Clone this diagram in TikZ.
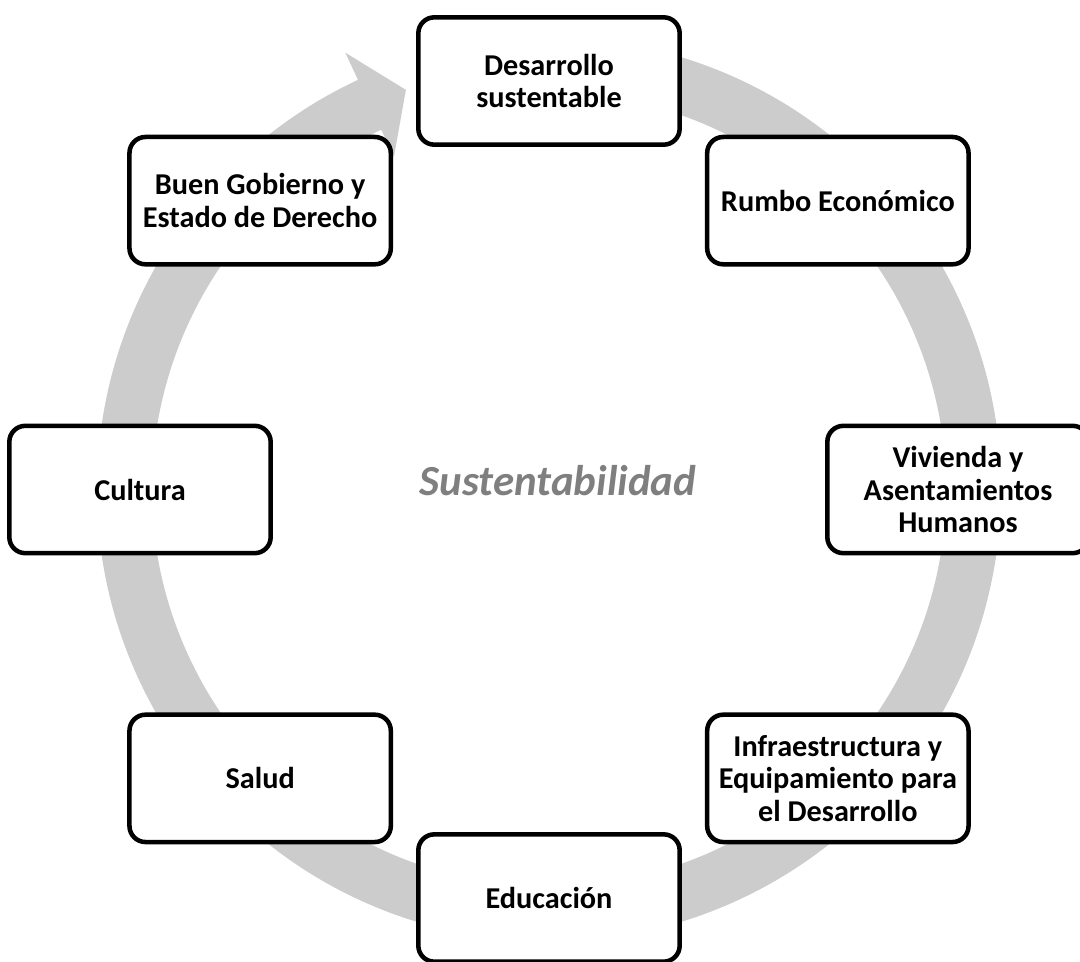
\documentclass[tikz,border=0pt]{standalone}
\usepackage{fontspec}
\setmainfont{Carlito}
\usepackage{xcolor}
\usetikzlibrary{calc,positioning}
\definecolor{ringgray}{HTML}{CCCCCC}
\definecolor{textgray}{HTML}{7F7F7F}
\begin{document}
\begin{tikzpicture}[x=0.75pt,y=0.75pt]
		\tikzstyle{topic}=[draw, fill=white, line width=3.4pt, rounded corners=12pt, minimum width=196pt, minimum height=95.5pt, align=center, font=\bfseries\fontsize{22.7}{24.5}\selectfont]
		\useasboundingbox (-549,-471.5) rectangle (531,489.5);
		% gray cycle arrow
		\fill [ringgray] (80:452) arc [start angle=80, end angle=-245, radius=452] -- (115:482) -- (109.7:424.5) -- (115:367) -- (115:397) arc [start angle=-245, end angle=80, radius=397] -- cycle;
		\node [font=\bfseries\itshape\fontsize{32.2}{36}\selectfont, text=textgray, anchor=base] (centro) at (9,-5.5) {Sustentabilidad};
		\node [topic] (desarrollo) at (90:408.5) {Desarrollo\\sustentable};
		\node [topic] (rumbo) at (45:408.5) {Rumbo Económico};
		\node [topic] (vivienda) at (0:409) {Vivienda y\\Asentamientos\\Humanos};
		\node [topic] (infra) at (-45:408.5) {Infraestructura y\\Equipamiento para\\el Desarrollo};
		\node [topic] (educacion) at (-90:408.5) {Educación};
		\node [topic] (salud) at (-135:408.5) {Salud};
		\node [topic] (cultura) at (180:409) {Cultura};
		\node [topic] (gobierno) at (135:408.5) {Buen Gobierno y\\Estado de Derecho};
	\end{tikzpicture}
\end{document}
